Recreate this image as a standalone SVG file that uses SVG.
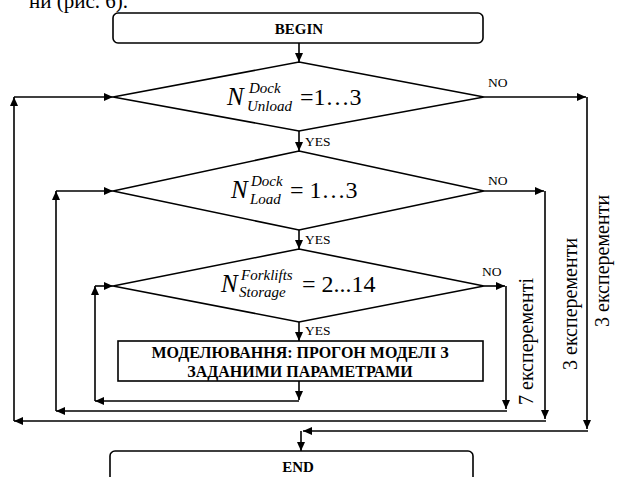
<svg xmlns="http://www.w3.org/2000/svg" width="622" height="477" viewBox="0 0 622 477">
<style>
.sh{fill:#fff;stroke:#000;stroke-width:1.6}
.ln{fill:none;stroke:#000;stroke-width:1.6}
.ar{marker-end:url(#ah)}
.t{font-family:"Liberation Serif","Times New Roman",serif;fill:#000}
.b{font-weight:bold}
.lbl{font-size:13.5px}
.f{font-style:italic}
</style>
<defs>
<marker id="ah" markerUnits="userSpaceOnUse" markerWidth="9" markerHeight="8" refX="9" refY="4" orient="auto">
<path d="M0,0 L9,4 L0,8 z" fill="#000"/>
</marker>
</defs>
<text class="t" x="128" y="8" font-size="21" text-anchor="end">ни (рис. 6).</text>
<g id="begin">
<rect class="sh" x="113" y="13" width="370" height="30" rx="5"/>
<text class="t b" x="299" y="34" font-size="15" text-anchor="middle">BEGIN</text>
</g>
<g id="d1">
<polygon class="sh" points="299,62 484,97 299,131 113,97"/>
<text class="t f" x="227" y="105" font-size="25">N</text>
<text class="t f" x="249" y="93" font-size="15">Dock</text>
<text class="t f" x="247" y="111" font-size="15">Unload</text>
<text class="t" x="300" y="105" font-size="24">=1…3</text>
</g>
<g id="d2">
<polygon class="sh" points="299,151 484,191 299,230 113,191"/>
<text class="t f" x="231" y="198" font-size="25">N</text>
<text class="t f" x="251" y="186" font-size="15">Dock</text>
<text class="t f" x="250" y="204" font-size="15">Load</text>
<text class="t" x="290" y="198" font-size="24">= 1…3</text>
</g>
<g id="d3">
<polygon class="sh" points="299,249 484,286 299,322 113,286"/>
<text class="t f" x="221" y="292" font-size="25">N</text>
<text class="t f" x="241" y="280" font-size="15">Forklifts</text>
<text class="t f" x="239" y="297" font-size="15">Storage</text>
<text class="t" x="302" y="292" font-size="24">= 2...14</text>
</g>
<g id="sim">
<rect class="sh" x="118" y="341" width="365" height="40"/>
<text class="t b" x="300" y="358" font-size="16" text-anchor="middle">МОДЕЛЮВАННЯ: ПРОГОН МОДЕЛІ З</text>
<text class="t b" x="300" y="377" font-size="16" text-anchor="middle">ЗАДАНИМИ ПАРАМЕТРАМИ</text>
</g>
<g id="end">
<rect class="sh" x="110" y="451" width="363" height="40" rx="5"/>
<text class="t b" x="298" y="472" font-size="15" text-anchor="middle">END</text>
</g>
<g id="connectors">
<path class="ln ar" d="M299,43 V62"/>
<path class="ln ar" d="M299,131 V151"/>
<path class="ln ar" d="M299,230 V249"/>
<path class="ln ar" d="M299,322 V341"/>
<path class="ln ar" d="M299,381 V400"/>
<path class="ln ar" d="M299,401 H95"/>
<path class="ln ar" d="M95,401 V286"/>
<path class="ln ar" d="M95,286 H113"/>
<path class="ln ar" d="M484,286 H505"/>
<path class="ln ar" d="M506,286 V409"/>
<path class="ln ar" d="M507,411 H56"/>
<path class="ln ar" d="M56,411 V191"/>
<path class="ln ar" d="M56,191 H113"/>
<path class="ln ar" d="M484,191 H544"/>
<path class="ln ar" d="M545,191 V419"/>
<path class="ln ar" d="M546,421 H14"/>
<path class="ln ar" d="M14,421 V97"/>
<path class="ln ar" d="M14,97 H113"/>
<path class="ln ar" d="M484,97 H586"/>
<path class="ln ar" d="M587,97 V429"/>
<path class="ln ar" d="M588,431 H303"/>
<path class="ln ar" d="M301,431 V451"/>
</g>
<g id="labels">
<text class="t lbl" x="305" y="146">YES</text>
<text class="t lbl" x="305" y="244">YES</text>
<text class="t lbl" x="305" y="335">YES</text>
<text class="t lbl" x="488" y="87">NO</text>
<text class="t lbl" x="488" y="185">NO</text>
<text class="t lbl" x="482" y="276">NO</text>
<text class="t" font-size="20" transform="translate(533,405) rotate(-90)">7 експеременті</text>
<text class="t" font-size="20" transform="translate(577,370) rotate(-90)">3 експеременти</text>
<text class="t" font-size="20" transform="translate(609,327) rotate(-90)">3 експеременти</text>
</g>
</svg>
